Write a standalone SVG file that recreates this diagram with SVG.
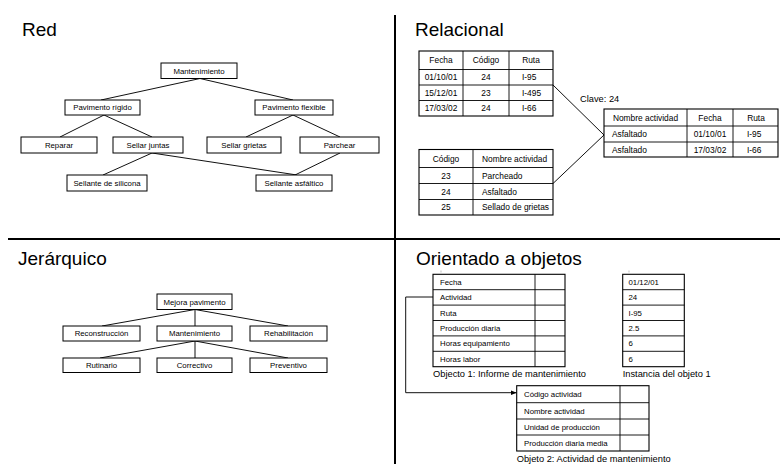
<svg xmlns="http://www.w3.org/2000/svg" width="780" height="464" viewBox="0 0 780 464">
<defs>
<style>
text{font-family:"Liberation Sans",Arial,Helvetica,sans-serif;fill:#000}
.title{font-size:19px}
.n{font-size:7.8px;text-anchor:middle}
.t{font-size:8.4px}
.tc{font-size:8.4px;text-anchor:middle}
.o{font-size:7.8px}
.cap{font-size:9.3px}
.box{fill:#fff;stroke:#000;stroke-width:1}
.tbl{fill:#fff;stroke:#000;stroke-width:1.1}
.grid{stroke:#000;stroke-width:0.9;fill:none}
.edge{stroke:#111;stroke-width:1;fill:none}
.div{stroke:#000;stroke-width:2}
</style>
<marker id="arr" viewBox="0 0 10 10" refX="10" refY="5" markerWidth="6" markerHeight="6" orient="auto" markerUnits="userSpaceOnUse">
<path d="M0,1 L10,5 L0,9 z" fill="#000"/>
</marker>
</defs>
<rect width="780" height="464" fill="#fff"/>

<g id="dividers">
<line class="div" x1="395" y1="15" x2="395" y2="464"/>
<line class="div" x1="8" y1="239" x2="780" y2="239"/>
</g>

<g id="titles">
<text class="title" x="22" y="36">Red</text>
<text class="title" x="415" y="36">Relacional</text>
<text class="title" x="18" y="265">Jerárquico</text>
<text class="title" x="416" y="265">Orientado a objetos</text>
</g>

<!-- Red -->
<g id="red-connectors">
<path class="edge" d="M200,78.5 L101,100 M200,78.5 L293,100 M104,115 L60,137 M104,115 L152,137 M293,115 L246,137 M293,115 L340,137 M152,153 L103,175 M152,153 L297,175 M340,153 L295,175"/>
</g>
<g id="red-mantenimiento"><rect class="box" x="161" y="63" width="76" height="15.5"/><text class="n" x="199" y="73.5">Mantenimiento</text></g>
<g id="red-pav-rigido"><rect class="box" x="65" y="100" width="75" height="15"/><text class="n" x="102.5" y="110.3">Pavimento rígido</text></g>
<g id="red-pav-flexible"><rect class="box" x="255" y="100" width="78" height="15"/><text class="n" x="294" y="110.3">Pavimento flexible</text></g>
<g id="red-reparar"><rect class="box" x="21" y="137" width="76" height="16"/><text class="n" x="59" y="147.8">Reparar</text></g>
<g id="red-sellar-juntas"><rect class="box" x="113" y="137" width="70" height="16"/><text class="n" x="148" y="147.8">Sellar juntas</text></g>
<g id="red-sellar-grietas"><rect class="box" x="207" y="137" width="74" height="16"/><text class="n" x="244" y="147.8">Sellar grietas</text></g>
<g id="red-parchear"><rect class="box" x="300" y="137" width="79" height="16"/><text class="n" x="339.5" y="147.8">Parchear</text></g>
<g id="red-silicona"><rect class="box" x="67" y="175" width="80" height="16"/><text class="n" x="107" y="185.8">Sellante de silicona</text></g>
<g id="red-asfaltico"><rect class="box" x="256" y="175" width="76" height="16"/><text class="n" x="294" y="185.8">Sellante asfáltico</text></g>

<!-- Relacional -->
<g id="rel-connectors">
<path class="edge" d="M553,85 L604,135 L553,183.5"/>
</g>
<g id="rel-table1">
<rect class="tbl" x="419" y="51" width="134" height="65"/>
<path class="grid" d="M463,51 V116 M509,51 V116 M419,69.5 H553 M419,85 H553 M419,100.5 H553"/>
<text class="tc" x="441" y="63">Fecha</text>
<text class="tc" x="486" y="63">Código</text>
<text class="tc" x="531" y="63">Ruta</text>
<text class="tc" x="441" y="80">01/10/01</text>
<text class="tc" x="486" y="80">24</text>
<text class="t" x="522" y="80">I-95</text>
<text class="tc" x="441" y="95.8">15/12/01</text>
<text class="tc" x="486" y="95.8">23</text>
<text class="t" x="522" y="95.8">I-495</text>
<text class="tc" x="441" y="111.3">17/03/02</text>
<text class="tc" x="486" y="111.3">24</text>
<text class="t" x="522" y="111.3">I-66</text>
</g>
<g id="rel-clave"><text class="cap" x="580" y="102">Clave: 24</text></g>
<g id="rel-table3">
<rect class="tbl" x="604" y="109" width="174" height="48"/>
<path class="grid" d="M687,109 V157 M733,109 V157 M604,126 H778 M604,142 H778"/>
<text class="tc" x="645.5" y="120.5">Nombre actividad</text>
<text class="tc" x="710" y="120.5">Fecha</text>
<text class="tc" x="756" y="120.5">Ruta</text>
<text class="t" x="612" y="137">Asfaltado</text>
<text class="tc" x="710" y="137">01/10/01</text>
<text class="t" x="747" y="137">I-95</text>
<text class="t" x="612" y="152.5">Asfaltado</text>
<text class="tc" x="710" y="152.5">17/03/02</text>
<text class="t" x="747" y="152.5">I-66</text>
</g>
<g id="rel-table2">
<rect class="tbl" x="419" y="149.5" width="134" height="65.5"/>
<path class="grid" d="M473,149.5 V215 M419,167.5 H553 M419,183.5 H553 M419,199.5 H553"/>
<text class="tc" x="446" y="161.5">Código</text>
<text class="t" x="482" y="161.5">Nombre actividad</text>
<text class="tc" x="446" y="178.5">23</text>
<text class="t" x="482" y="178.5">Parcheado</text>
<text class="tc" x="446" y="194.5">24</text>
<text class="t" x="482" y="194.5">Asfaltado</text>
<text class="tc" x="446" y="210.3">25</text>
<text class="t" x="482" y="210.3">Sellado de grietas</text>
</g>

<!-- Jerárquico -->
<g id="jer-connectors">
<path class="edge" d="M195,309.5 L102,326 M195,309.5 V326 M195,309.5 L288,326 M195,341 L100,358 M195,341 V358 M195,341 L288,358"/>
</g>
<g id="jer-mejora"><rect class="box" x="157" y="294" width="75" height="15.5"/><text class="n" x="194.5" y="304.5">Mejora pavimento</text></g>
<g id="jer-reconstruccion"><rect class="box" x="63" y="326" width="77" height="15"/><text class="n" x="101.5" y="336.3">Reconstrucción</text></g>
<g id="jer-mantenimiento"><rect class="box" x="157" y="326" width="75" height="15"/><text class="n" x="194.5" y="336">Mantenimiento</text></g>
<g id="jer-rehabilitacion"><rect class="box" x="250" y="326" width="77" height="15"/><text class="n" x="288.5" y="336.3">Rehabilitación</text></g>
<g id="jer-rutinario"><rect class="box" x="63" y="358" width="77" height="14.5"/><text class="n" x="101.5" y="368.2">Rutinario</text></g>
<g id="jer-correctivo"><rect class="box" x="157" y="358" width="75" height="14.5"/><text class="n" x="194.5" y="367.5">Correctivo</text></g>
<g id="jer-preventivo"><rect class="box" x="250" y="358" width="77" height="14.5"/><text class="n" x="288.5" y="368.2">Preventivo</text></g>

<!-- Orientado a objetos -->
<g id="oo-connectors">
<path class="edge" d="M433,297 H405.7 V392.7 H516.7" marker-end="url(#arr)"/>
</g>
<g id="oo-object1">
<rect class="tbl" x="433" y="274.3" width="132" height="92.4"/>
<path class="grid" d="M535,274.3 V366.7 M433,289.7 H565 M433,305.1 H565 M433,320.5 H565 M433,335.9 H565 M433,351.3 H565"/>
<line x1="441" y1="270.5" x2="441" y2="272.5" stroke="#999" stroke-width="0.6"/>
<text class="o" x="440" y="284.8">Fecha</text>
<text class="o" x="440" y="300.2">Actividad</text>
<text class="o" x="440" y="315.6">Ruta</text>
<text class="o" x="440" y="331">Producción diaria</text>
<text class="o" x="440" y="346.4">Horas equipamiento</text>
<text class="o" x="440" y="361.8">Horas labor</text>
<text class="cap" x="433" y="377">Objecto 1: Informe de mantenimiento</text>
</g>
<g id="oo-instance">
<rect class="tbl" x="622.7" y="274.3" width="61.6" height="92.4"/>
<path class="grid" d="M622.7,289.7 H684.3 M622.7,305.1 H684.3 M622.7,320.5 H684.3 M622.7,335.9 H684.3 M622.7,351.3 H684.3"/>
<line x1="629" y1="270.5" x2="629" y2="272.5" stroke="#999" stroke-width="0.6"/>
<text class="o" x="628.5" y="284.8">01/12/01</text>
<text class="o" x="628.5" y="300.2">24</text>
<text class="o" x="628.5" y="315.6">I-95</text>
<text class="o" x="628.5" y="331">2.5</text>
<text class="o" x="628.5" y="346.4">6</text>
<text class="o" x="628.5" y="361.8">6</text>
<text class="cap" x="622.7" y="377">Instancia del objeto 1</text>
</g>
<g id="oo-object2">
<rect class="tbl" x="516.7" y="385.7" width="132.3" height="65.3"/>
<path class="grid" d="M620,385.7 V451 M516.7,402.7 H649 M516.7,419 H649 M516.7,435 H649"/>
<text class="o" x="524" y="397">Código actividad</text>
<text class="o" x="524" y="413.6">Nombre actividad</text>
<text class="o" x="524" y="429.8">Unidad de producción</text>
<text class="o" x="524" y="445.8">Producción diaria media</text>
<text class="cap" x="516.7" y="462">Objeto 2: Actividad de mantenimiento</text>
</g>
</svg>
